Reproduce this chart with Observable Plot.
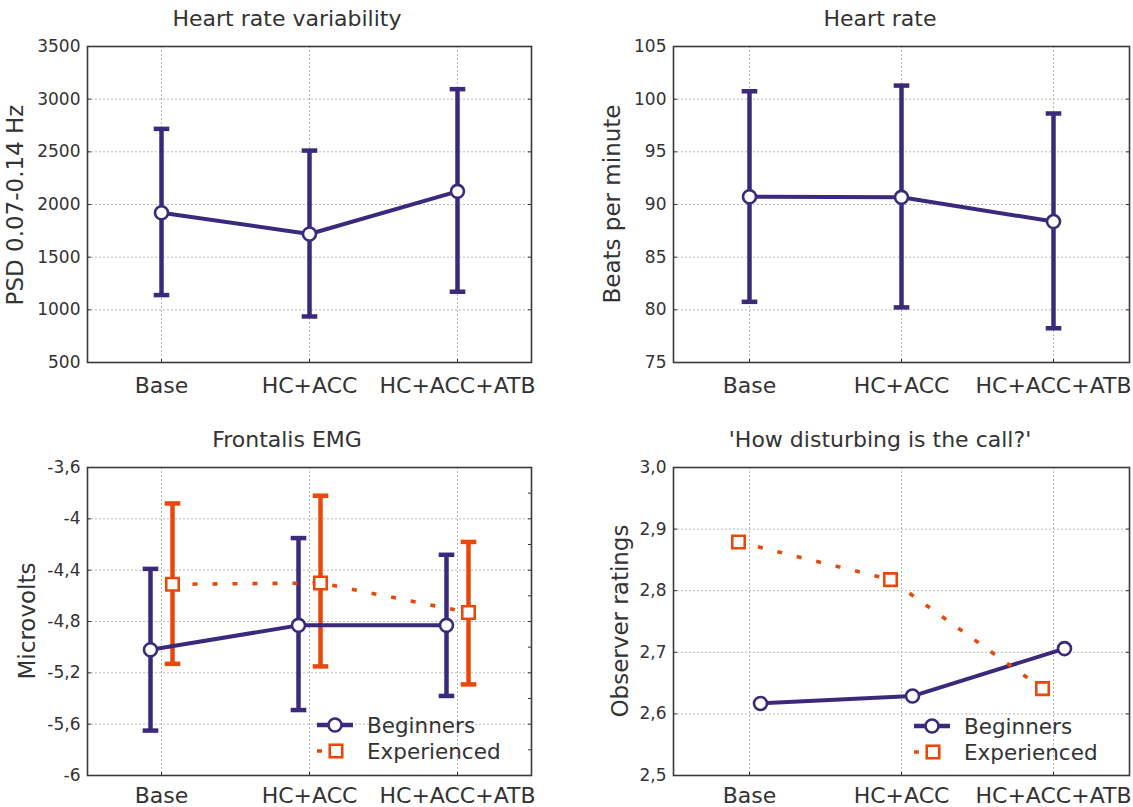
<!DOCTYPE html>
<html><head><meta charset="utf-8">
<script src="https://cdn.jsdelivr.net/npm/d3@7"></script>
<script src="https://cdn.jsdelivr.net/npm/@observablehq/plot@0.6"></script>
<style>
html,body{margin:0;padding:0;background:#fff;}
#root{position:relative;width:1133px;height:807px;font-family:"DejaVu Sans",sans-serif;color:#333;overflow:hidden;}
.panel{position:absolute;}
.panel svg{overflow:visible;}
.title{position:absolute;width:500px;text-align:center;font-size:22px;line-height:26px;white-space:nowrap;color:#333;}
.ylab{position:absolute;width:400px;text-align:center;font-size:23px;line-height:26px;white-space:nowrap;color:#333;transform:translate(-50%,-50%) rotate(-90deg);}
.legend{position:absolute;}
</style></head><body><div id="root"></div>
<script>
// ---------- data ----------
const categories = ["Base", "HC+ACC", "HC+ACC+ATB"];

// Heart rate variability (PSD 0.07-0.14 Hz)
const hrvMean = [1922, 1720, 2125];
const hrvLow  = [1140, 937, 1172];
const hrvHigh = [2718, 2512, 3095];
const hrvTicks = [500, 1000, 1500, 2000, 2500, 3000, 3500];

// Heart rate (beats per minute)
const hrMean = [90.74, 90.68, 88.38];
const hrLow  = [80.76, 80.23, 78.25];
const hrHigh = [100.75, 101.29, 98.64];
const hrTicks = [75, 80, 85, 90, 95, 100, 105];

// Frontalis EMG (microvolts)
const emgBegMean = [-5.02, -4.83, -4.83];
const emgBegLow  = [-5.65, -5.49, -5.38];
const emgBegHigh = [-4.39, -4.15, -4.28];
const emgExpMean = [-4.51, -4.50, -4.73];
const emgExpLow  = [-5.13, -5.15, -5.29];
const emgExpHigh = [-3.88, -3.82, -4.18];
const emgTicks = [-6, -5.6, -5.2, -4.8, -4.4, -4, -3.6];
const emgMinorTicks = [-6, -5.8, -5.6, -5.4, -5.2, -5, -4.8, -4.6, -4.4, -4.2, -4, -3.8, -3.6];

// 'How disturbing is the call?' (observer ratings)
const ratBegMean = [2.617, 2.629, 2.706];
const ratExpMean = [2.879, 2.818, 2.641];
const ratTicks = [2.5, 2.6, 2.7, 2.8, 2.9, 3.0];

const seriesNames = ["Beginners", "Experienced"];

// ---------- styles ----------
const PURPLE = "#3b2a7c";
const ORANGE = "#e8480c";
const GRID = "#b8b8b8";
const TEXT = "#333";

const rows = (mean, low, high) => categories.map((c, i) => ({cat: c, mean: mean[i], lo: low ? low[i] : null, hi: high ? high[i] : null}));

const capSymbol = {draw(ctx, size) { const w = Math.sqrt(size / Math.PI); ctx.moveTo(-w, 0); ctx.lineTo(w, 0); }};

const root = document.getElementById("root");

function panel(o) {
  const groupMarks = [];
  for (const g of o.groups) {
    if (g.errors) {
      groupMarks.push(
        Plot.ruleX(g.data, {x: "cat", y1: "lo", y2: "hi", stroke: g.color, strokeWidth: 4.5, dx: g.dx}),
        Plot.dot(g.data, {x: "cat", y: "lo", symbol: capSymbol, r: 7.8, fill: "none", stroke: g.color, strokeWidth: 4.5, strokeLinecap: "butt", dx: g.dx}),
        Plot.dot(g.data, {x: "cat", y: "hi", symbol: capSymbol, r: 7.8, fill: "none", stroke: g.color, strokeWidth: 4.5, strokeLinecap: "butt", dx: g.dx})
      );
    }
  }
  for (const g of o.groups) {
    groupMarks.push(Plot.line(g.data, {x: "cat", y: "mean", stroke: g.color, strokeWidth: g.dash ? 3.6 : 4, strokeDasharray: g.dash, strokeLinecap: "butt", dx: g.dx}));
  }
  for (const g of o.groups) {
    groupMarks.push(Plot.dot(g.data, {x: "cat", y: "mean", symbol: g.symbol, r: g.symbol === "square" ? 7.05 : 6.5, fill: "white", stroke: g.color, strokeWidth: 2.6, dx: g.dx}));
  }
  const chart = Plot.plot({
    width: o.width, height: o.height,
    marginLeft: o.mL, marginRight: o.mR, marginTop: o.mT, marginBottom: o.mB,
    style: {fontFamily: "'DejaVu Sans', sans-serif", color: TEXT, background: "transparent", overflow: "visible"},
    x: {type: "point", domain: categories, padding: 0.5, axis: null},
    y: {domain: o.yDomain, axis: null},
    marks: [
      Plot.ruleY(o.yTicks, {y: d => d, stroke: GRID, strokeWidth: 1, strokeDasharray: "2,2"}),
      Plot.ruleX(categories, {x: d => d, stroke: GRID, strokeWidth: 1, strokeDasharray: "2,2"}),
      Plot.axisY({ticks: o.yTicks, tickFormat: o.yFmt, tickSize: 0, tickPadding: 7, fontSize: 17, label: null}),
      Plot.axisY({ticks: o.yTicks, tickSize: 4, dx: 4, tickFormat: () => "", label: null}),
      Plot.axisY({anchor: "right", ticks: o.rightTicks || o.yTicks, tickSize: 4, dx: -4, tickFormat: () => "", label: null}),
      Plot.axisX({tickSize: 0, tickPadding: o.xPad, fontSize: 22, label: null}),
      Plot.axisX({tickSize: 3, dy: -3, tickFormat: () => "", label: null}),
      Plot.frame({stroke: "#3a3a3a", strokeWidth: 1.6}),
      ...groupMarks
    ]
  });
  const div = document.createElement("div");
  div.className = "panel";
  div.style.left = o.left + "px";
  div.style.top = o.top + "px";
  div.appendChild(chart);
  root.appendChild(div);

  const t = document.createElement("div");
  t.className = "title";
  t.textContent = o.title;
  t.style.left = (o.titleX - 250) + "px";
  t.style.top = (o.titleY - 13) + "px";
  root.appendChild(t);

  const yl = document.createElement("div");
  yl.className = "ylab";
  yl.textContent = o.ylabel;
  yl.style.left = o.ylabX + "px";
  yl.style.top = o.ylabY + "px";
  root.appendChild(yl);
}

function legend(x, y) {
  // x: circle centre, y: first row centre
  const ns = "http://www.w3.org/2000/svg";
  const svg = document.createElementNS(ns, "svg");
  svg.setAttribute("width", 220);
  svg.setAttribute("height", 60);
  svg.setAttribute("class", "legend");
  svg.style.left = (x - 20) + "px";
  svg.style.top = (y - 15) + "px";
  const cx = 20, y1 = 15, y2 = 41;
  svg.innerHTML =
    `<line x1="${cx - 18}" x2="${cx + 18}" y1="${y1}" y2="${y1}" stroke="${PURPLE}" stroke-width="4.5"/>` +
    `<circle cx="${cx}" cy="${y1}" r="6.5" fill="white" stroke="${PURPLE}" stroke-width="2.6"/>` +
    `<line x1="${cx - 18}" x2="${cx + 18}" y1="${y2}" y2="${y2}" stroke="${ORANGE}" stroke-width="3.6" stroke-dasharray="5,15"/>` +
    `<rect x="${cx - 6.25 + 1}" y="${y2 - 6.25}" width="12.5" height="12.5" fill="white" stroke="${ORANGE}" stroke-width="2.6"/>` +
    `<text x="${cx + 32}" y="${y1}" dy="0.36em" font-family="DejaVu Sans, sans-serif" font-size="21.5" fill="${TEXT}">${seriesNames[0]}</text>` +
    `<text x="${cx + 32}" y="${y2}" dy="0.36em" font-family="DejaVu Sans, sans-serif" font-size="21.5" fill="${TEXT}">${seriesNames[1]}</text>`;
  root.appendChild(svg);
}

panel({
  left: 0, top: 36, width: 566, height: 372, mL: 87, mR: 35, mT: 10, mB: 46, xPad: 15,
  yDomain: [500, 3500], yTicks: hrvTicks, yFmt: d => String(d),
  title: "Heart rate variability", titleX: 287, titleY: 19,
  ylabel: "PSD 0.07-0.14 Hz", ylabX: 15, ylabY: 205,
  groups: [{data: rows(hrvMean, hrvLow, hrvHigh), color: PURPLE, symbol: "circle", dx: 0, errors: true}]
});

panel({
  left: 566, top: 36, width: 567, height: 372, mL: 107, mR: 4, mT: 10, mB: 46, xPad: 15,
  yDomain: [75, 105], yTicks: hrTicks, yFmt: d => String(d),
  title: "Heart rate", titleX: 880, titleY: 19,
  ylabel: "Beats per minute", ylabX: 612, ylabY: 204,
  groups: [{data: rows(hrMean, hrLow, hrHigh), color: PURPLE, symbol: "circle", dx: 0, errors: true}]
});

panel({
  left: 0, top: 457, width: 566, height: 350, mL: 87, mR: 35, mT: 10, mB: 32, xPad: 12,
  yDomain: [-6, -3.6], yTicks: emgTicks, rightTicks: emgMinorTicks, yFmt: d => String(d).replace(".", ","),
  title: "Frontalis EMG", titleX: 287, titleY: 440,
  ylabel: "Microvolts", ylabX: 27, ylabY: 621,
  groups: [
    {data: rows(emgBegMean, emgBegLow, emgBegHigh), color: PURPLE, symbol: "circle", dx: -11, errors: true},
    {data: rows(emgExpMean, emgExpLow, emgExpHigh), color: ORANGE, symbol: "square", dx: 11, errors: true, dash: "5,15"}
  ]
});

panel({
  left: 566, top: 457, width: 567, height: 350, mL: 107, mR: 4, mT: 10, mB: 32, xPad: 12,
  yDomain: [2.5, 3.0], yTicks: ratTicks, yFmt: d => d.toFixed(1).replace(".", ","),
  title: "'How disturbing is the call?'", titleX: 880, titleY: 440,
  ylabel: "Observer ratings", ylabX: 620, ylabY: 621,
  groups: [
    {data: rows(ratBegMean), color: PURPLE, symbol: "circle", dx: 11, errors: false},
    {data: rows(ratExpMean), color: ORANGE, symbol: "square", dx: -11, errors: false, dash: "5,15"}
  ]
});

legend(335, 725);
legend(932, 726);
</script>
</body></html>
